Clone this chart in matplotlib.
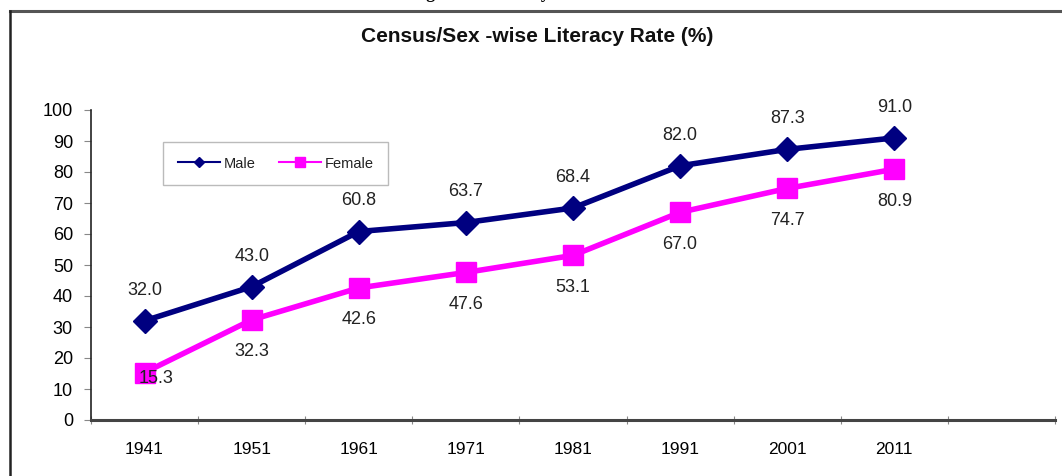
import matplotlib.pyplot as plt
from matplotlib.lines import Line2D

years = ["1941", "1951", "1961", "1971", "1981", "1991", "2001", "2011"]
male = [32.0, 43.0, 60.8, 63.7, 68.4, 82.0, 87.3, 91.0]
female = [15.3, 32.3, 42.6, 47.6, 53.1, 67.0, 74.7, 80.9]
y_ticks = [0, 10, 20, 30, 40, 50, 60, 70, 80, 90, 100]

NAVY = "#000080"
MAGENTA = "#ff00ff"

plt.rcParams["font.family"] = ["Liberation Sans", "DejaVu Sans"]

fig = plt.figure(figsize=(10.62, 4.76), dpi=100)

# outer chart frame (top and left edges visible)
fig.add_artist(Line2D([10 / 1062, 1.0], [1 - 11 / 476] * 2, color="#555555", lw=2.2))
fig.add_artist(Line2D([10 / 1062] * 2, [0, 1 - 11 / 476], color="#222222", lw=1.8))

# caption of the figure, cut off by the top edge in the source
fig.text(0.56, 1 + 2.5 / 476, "Figure 3: Literacy Rate of UT from 1941 to 2011",
         ha="center", va="baseline", fontsize=13, fontweight="bold",
         family="Liberation Serif")

fig.text(537 / 1062, 1 - 37 / 476, "Census/Sex -wise Literacy Rate (%)",
         ha="center", va="center", fontsize=15, fontweight="bold", color="#111111")

ax = fig.add_axes([91 / 1062, 56 / 476, 964 / 1062, 310 / 476])
x = list(range(len(years)))

ax.plot(x, male, color=NAVY, lw=4, marker="D", ms=12, mfc=NAVY, mec=NAVY, zorder=3)
ax.plot(x, female, color=MAGENTA, lw=4, marker="s", ms=15, mfc=MAGENTA, mec=MAGENTA, zorder=3)

for i, v in enumerate(male):
    ax.annotate(f"{v:.1f}", (i, v), xytext=(0, 22), textcoords="offset points",
                ha="center", va="center", fontsize=13, color="#222222")
for i, v in enumerate(female):
    off = (8, -4) if i == 0 else (0, -23)
    ax.annotate(f"{v:.1f}", (i, v), xytext=off, textcoords="offset points",
                ha="center", va="center", fontsize=13, color="#222222", zorder=4)

ax.set_xlim(-0.5, len(years) + 0.5)
ax.set_ylim(0, 100)
ax.set_yticks(y_ticks)
ax.set_xticks([i - 0.5 for i in range(len(years) + 2)])
ax.set_xticklabels([])
ax.set_xticks(x, minor=True)
ax.set_xticklabels(years, minor=True)
ax.tick_params(axis="x", which="minor", length=0, pad=16, labelsize=12.5)
ax.tick_params(axis="x", which="major", direction="inout", length=6, color="#888888")
ax.tick_params(axis="y", direction="out", length=5, color="#888888", labelsize=13, pad=8)

for side in ["top", "right"]:
    ax.spines[side].set_visible(False)
ax.spines["left"].set_color("#222222")
ax.spines["left"].set_linewidth(1.2)
ax.spines["bottom"].set_color("#444444")
ax.spines["bottom"].set_linewidth(2.2)

handles = [
    Line2D([], [], color=NAVY, lw=1.5, marker="D", ms=5, label="Male"),
    Line2D([], [], color=MAGENTA, lw=1.5, marker="s", ms=7, label="Female"),
]
leg = ax.legend(handles=handles, ncol=2, loc="upper left",
                bbox_to_anchor=(72 / 964, 1 - 32 / 310), fontsize=10.5,
                frameon=True, fancybox=False, edgecolor="#aaaaaa",
                handlelength=2.9, columnspacing=1.6, borderpad=1.0,
                handletextpad=0.25, borderaxespad=0)
leg.get_frame().set_linewidth(1.0)
for t in leg.get_texts():
    t.set_color("#222222")

fig.savefig("out.png", dpi=100)
